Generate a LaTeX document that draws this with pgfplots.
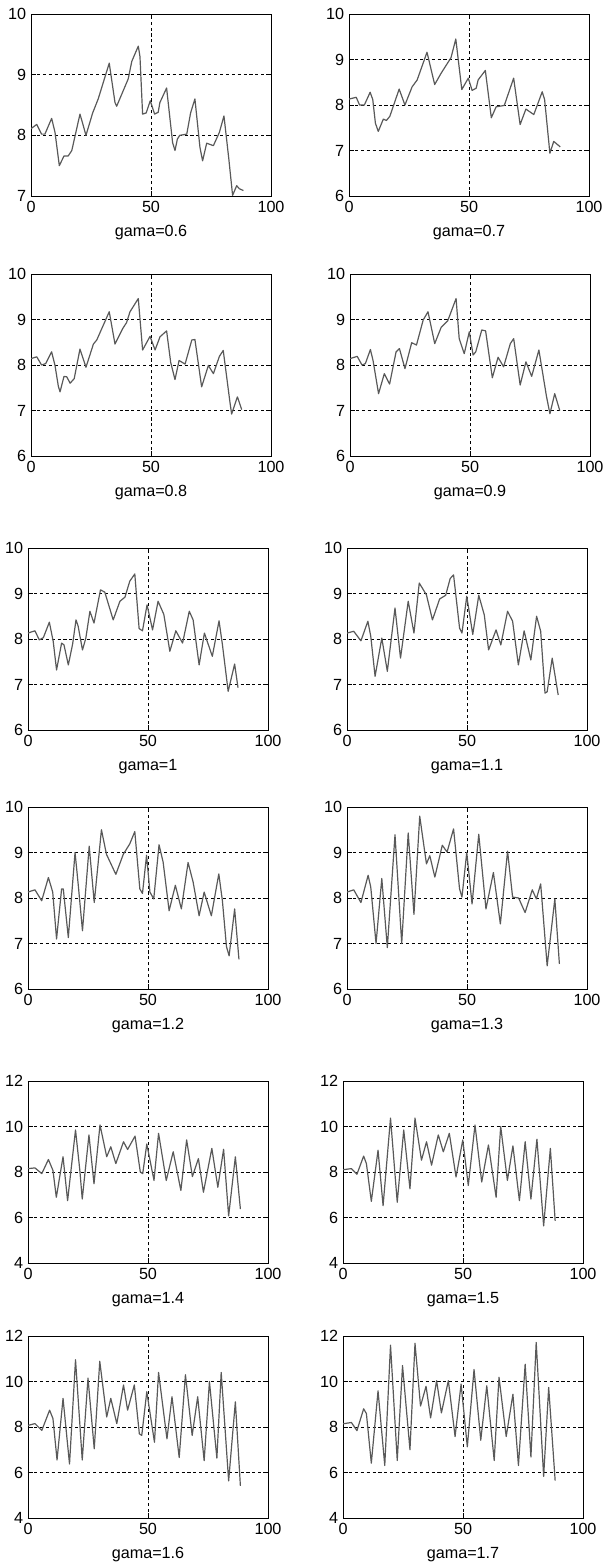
\documentclass[border=0pt]{standalone}
\usepackage{fontspec}
\setmainfont{Liberation Sans}
\usepackage{pgfplots}
\pgfplotsset{compat=1.18}

\pgfplotsset{
  panel/.style={
    scale only axis, width=60mm, height=45.5mm,
    anchor=north west,
    xmin=0, xmax=100, xtick={0,50,100},
    grid=major,
    major grid style={black, line width=0.5pt, dash pattern=on 2.2pt off 2pt},
    axis line style={black, line width=0.6pt},
    tick align=inside, tick pos=both, major tick length=1.2mm,
    tick style={black, line width=0.5pt},
    /pgf/number format/assume math mode=true,
    ticklabel style={font=\fontsize{11.5}{13}\selectfont},
    label style={font=\fontsize{11.5}{13}\selectfont},
    xlabel style={yshift=-2.5pt},
  },
  r1/.style={ymin=6, ymax=10, ytick={6,7,8,9,10}},
  r3/.style={ymin=4, ymax=12, ytick={4,6,8,10,12}},
}
\tikzset{trace/.style={draw=black!65, line width=0.85pt, line join=round, mark=none}}

\begin{document}
\begin{tikzpicture}
\path[use as bounding box] (0,0) rectangle (151.25mm,-390.5mm);

% gama = 0.6
\begin{axis}[panel, at={(7.75mm,-3.5mm)}, ymin=7, ymax=10, ytick={7,8,9,10}, xlabel={gama=0.6}]
\addplot[trace] coordinates {(0,8.11) (2.4,8.18) (4.4,8.02) (5.8,8.02) (8.6,8.28) (10,8.05) (11.8,7.5) (13.75,7.66) (15.5,7.66) (17,7.75) (20.4,8.35) (21.5,8.2) (22.9,8.0) (25.7,8.37) (28,8.6) (32.6,9.19) (35,8.54) (35.7,8.48) (40.5,8.93) (42,9.22) (44.7,9.47) (45.4,9.3) (46.5,8.35) (48,8.37) (49.7,8.57) (51.5,8.35) (53,8.38) (53.7,8.54) (56.5,8.78) (59,7.88) (60,7.75) (61,7.94) (62,8.0) (64.9,8.02) (66.5,8.37) (68.3,8.6) (70.4,7.8) (71.5,7.58) (73.2,7.87) (76,7.83) (78.5,8.05) (80.4,8.32) (82.4,7.62) (84,7.01) (85.7,7.17) (86.8,7.12) (88.5,7.09)};
\end{axis}

% gama = 0.7
\begin{axis}[panel, r1, at={(87.25mm,-3.5mm)}, xlabel={gama=0.7}]
\addplot[trace] coordinates {(0,8.13) (3,8.17) (4.4,8.0) (6.4,8.0) (8.8,8.28) (9.9,8.12) (11,7.6) (12.2,7.42) (14.3,7.69) (15.6,7.66) (17,7.75) (20.9,8.35) (23.3,8.0) (26.3,8.4) (28.4,8.55) (32.5,9.16) (35.7,8.45) (38.4,8.7) (42.5,9.04) (44.5,9.45) (47,8.34) (49.7,8.59) (51.3,8.32) (53,8.37) (53.8,8.55) (56.8,8.76) (59.3,7.72) (61.3,7.96) (64.7,7.99) (68.6,8.59) (71.3,7.57) (73.7,7.91) (77,7.79) (80.5,8.29) (81.5,8.12) (83.7,6.94) (85.3,7.2) (88,7.08)};
\end{axis}

% gama = 0.8
\begin{axis}[panel, r1, at={(7.75mm,-68.5mm)}, xlabel={gama=0.8}]
\addplot[trace] coordinates {(0,8.14) (2.4,8.18) (4.4,8.0) (6.1,8.03) (8.6,8.29) (10,7.99) (11.4,7.53) (12.1,7.41) (13.75,7.75) (14.9,7.74) (16.3,7.6) (18,7.7) (20.4,8.35) (22.9,7.95) (26,8.46) (27.4,8.55) (32.6,9.17) (35,8.46) (38.2,8.8) (39.8,8.93) (41.25,9.17) (44.7,9.46) (46.5,8.33) (49.6,8.63) (51.7,8.33) (53.75,8.62) (56.5,8.75) (58.2,8.06) (60,7.68) (61.7,8.1) (64.2,8.02) (67,8.55) (68.3,8.56) (71.1,7.52) (73.9,7.99) (76,7.81) (78.5,8.19) (80.1,8.32) (82.9,7.18) (83.6,6.92) (86,7.3) (87.8,7.02)};
\end{axis}

% gama = 0.9
\begin{axis}[panel, r1, at={(87.5mm,-68.5mm)}, xlabel={gama=0.9}]
\addplot[trace] coordinates {(0,8.14) (3,8.19) (5,8.0) (6.4,8.03) (8.5,8.34) (9.6,8.1) (11.9,7.37) (14.3,7.81) (16.5,7.58) (19.2,8.29) (20.6,8.36) (22.9,7.92) (25.7,8.49) (27.7,8.44) (30.5,8.99) (32.5,9.17) (35.3,8.47) (38,8.83) (40.7,8.97) (44.2,9.46) (45.5,8.58) (47.6,8.25) (49.7,8.73) (51.3,8.22) (52.4,8.29) (54.9,8.77) (56.5,8.75) (59.3,7.72) (61.7,8.17) (64,7.96) (66.8,8.47) (68.2,8.58) (70.9,7.56) (73.3,8.07) (75.7,7.75) (78.7,8.33) (81.9,7.3) (83.3,6.93) (85.3,7.37) (87.4,7.0)};
\end{axis}

% gama = 1
\begin{axis}[panel, r1, at={(7mm,-137mm)}, xlabel={gama=1}]
\addplot[trace] coordinates {(0,8.13) (2.9,8.18) (4.7,7.98) (6.4,8.03) (8.9,8.37) (10.5,7.95) (11.9,7.32) (14,7.91) (15,7.87) (16.8,7.43) (18.6,7.89) (20,8.42) (20.9,8.28) (22.7,7.76) (24.1,8.02) (25.8,8.61) (27.5,8.35) (30.2,9.08) (32,9.03) (35.5,8.42) (38.3,8.83) (40.4,8.92) (42.4,9.27) (44.5,9.43) (46.3,8.23) (47.7,8.18) (49.6,8.75) (51.9,8.2) (54.2,8.83) (56.6,8.54) (59.1,7.73) (61.6,8.18) (64.4,7.91) (67.2,8.61) (68.8,8.42) (71.3,7.43) (73.5,8.13) (76.8,7.62) (79.6,8.4) (81,7.88) (83.4,6.85) (86.1,7.45) (87.5,6.93)};
\end{axis}

% gama = 1.1
\begin{axis}[panel, r1, at={(86.75mm,-137mm)}, xlabel={gama=1.1}]
\addplot[trace] coordinates {(0,8.13) (2.8,8.17) (5.8,7.96) (8.7,8.39) (9.9,8.06) (11.7,7.18) (14.5,8.02) (16.8,7.29) (20,8.68) (22.3,7.58) (25.5,8.83) (27.9,8.13) (30.1,9.23) (33.1,8.97) (35.6,8.42) (38.6,8.88) (41.1,8.96) (43,9.33) (44.4,9.41) (46.9,8.24) (47.9,8.13) (49.9,8.94) (52.4,8.1) (54.9,8.96) (57.2,8.53) (59,7.76) (62.1,8.2) (64.1,7.87) (66.9,8.61) (69,8.39) (71.4,7.43) (73.8,8.18) (76.6,7.54) (79,8.5) (80.7,8.17) (82.5,6.81) (83.4,6.84) (85.5,7.58) (88,6.77)};
\end{axis}

% gama = 1.2
\begin{axis}[panel, r1, at={(7mm,-201.75mm)}, xlabel={gama=1.2}]
\addplot[trace] coordinates {(0,8.13) (2.9,8.18) (5.7,7.94) (8.5,8.45) (10.3,8.13) (11.9,7.1) (14,8.2) (14.7,8.2) (16.8,7.13) (19.6,9.0) (20.9,8.31) (22.7,7.28) (25.5,9.14) (27.6,7.9) (30.6,9.5) (32.7,8.96) (36.6,8.52) (39.7,8.96) (42.4,9.19) (44.5,9.46) (46.6,8.2) (47.7,8.1) (49.4,8.94) (50.8,8.13) (52.4,7.98) (54.6,9.17) (56.3,8.79) (58.8,7.72) (61.4,8.28) (63.9,7.76) (66.7,8.78) (68.8,8.35) (71.3,7.61) (73.4,8.13) (76.4,7.61) (79.5,8.53) (81,7.94) (82.7,6.93) (83.8,6.73) (86.1,7.76) (87.9,6.65)};
\end{axis}

% gama = 1.3
\begin{axis}[panel, r1, at={(86.75mm,-201.75mm)}, xlabel={gama=1.3}]
\addplot[trace] coordinates {(0,8.13) (2.8,8.18) (5.8,7.9) (8.8,8.5) (9.9,8.24) (12.1,7.0) (14.5,8.43) (16.8,6.91) (20,9.39) (22.8,7.0) (25.5,9.43) (27.9,7.64) (30.3,9.8) (33.1,8.75) (34.5,8.93) (36.6,8.46) (39.7,9.16) (41.7,9.01) (44.4,9.52) (46.9,8.2) (47.9,8.02) (49.9,9.0) (52.1,7.87) (54.9,9.4) (57.9,7.76) (61,8.56) (63.9,7.43) (66.9,9.03) (69,8.02) (71.5,8.0) (74.2,7.68) (77.2,8.18) (78.9,7.98) (80.7,8.31) (83.4,6.51) (86.6,7.98) (88.5,6.55)};
\end{axis}

% gama = 1.4
\begin{axis}[panel, r3, at={(7mm,-270.25mm)}, xlabel={gama=1.4}]
\addplot[trace] coordinates {(0,8.15) (2.9,8.18) (5.75,7.93) (8.5,8.55) (10.4,8.07) (11.8,6.89) (14.6,8.67) (16.5,6.74) (19.8,9.85) (21.6,8.07) (22.6,6.81) (25.4,9.63) (27.5,7.48) (30,10.07) (32.8,8.67) (34.5,9.11) (36.6,8.37) (39.8,9.33) (41.5,8.99) (44.6,9.58) (46.8,8.0) (47.8,7.93) (49.5,9.23) (52.5,7.63) (54.4,9.7) (57.6,7.63) (60.5,8.89) (63.7,7.19) (66.1,9.41) (68.5,7.8) (71,8.59) (73.1,7.11) (76.6,9.04) (79.1,7.33) (81.5,9.0) (83.6,6.07) (86.4,8.67) (88.5,6.37)};
\end{axis}

% gama = 1.5
\begin{axis}[panel, r3, at={(85.75mm,-270.25mm)}, xlabel={gama=1.5}]
\addplot[trace] coordinates {(0,8.1) (3.5,8.15) (5.8,7.9) (8.6,8.7) (9.75,8.37) (11.8,6.71) (14.6,8.96) (16.7,6.52) (19.8,10.37) (22.6,6.67) (25.3,9.85) (27.9,7.26) (30,10.37) (32.7,8.52) (34.8,9.33) (36.9,8.3) (39.7,9.63) (41.8,8.89) (44.3,9.7) (47.1,7.78) (49.9,9.41) (52.2,7.41) (55,10.07) (57.8,7.56) (60.6,9.19) (63.8,6.89) (65.7,10.0) (68.5,7.63) (70.8,9.15) (73.5,6.74) (75.9,9.33) (78.3,6.81) (80.8,9.44) (83.6,5.63) (86.4,9.04) (88.4,5.85)};
\end{axis}

% gama = 1.6
\begin{axis}[panel, r3, at={(7mm,-334mm)}, xlabel={gama=1.6}]
\addplot[trace] coordinates {(0,8.07) (2.9,8.15) (5.75,7.85) (9,8.74) (10.4,8.37) (12.1,6.55) (14.6,9.26) (17.3,6.37) (19.8,10.96) (22.6,6.55) (25,10.15) (27.6,7.04) (29.9,10.89) (32.8,8.44) (34.5,9.26) (37,8.15) (39.8,9.85) (41.5,8.74) (44.3,9.85) (46.4,7.7) (47.4,7.63) (49.5,9.55) (52.7,7.33) (54.4,10.4) (57.9,7.48) (60,9.33) (63,6.66) (65.6,10.3) (68.4,7.63) (70.7,9.33) (73.4,6.52) (75.6,10.0) (78.7,6.63) (80.5,10.4) (83.6,5.63) (86.4,9.11) (88.5,5.41)};
\end{axis}

% gama = 1.7
\begin{axis}[panel, r3, at={(85.75mm,-334mm)}, xlabel={gama=1.7}]
\addplot[trace] coordinates {(0,8.14) (3.5,8.2) (5.8,7.84) (8.6,8.8) (9.75,8.59) (11.8,6.41) (14.6,9.59) (17.4,6.31) (19.8,11.6) (22.6,6.53) (24.8,10.7) (27.9,7.0) (30,11.68) (32.3,8.92) (34.6,9.79) (36.5,8.4) (39,10.04) (41,8.62) (43.9,10.04) (46.7,7.58) (49.2,9.89) (51.8,7.13) (54.6,10.53) (57.4,7.42) (59.9,9.81) (63,6.53) (65,10.19) (68,7.58) (70.8,9.44) (73.1,6.31) (75.9,10.76) (78.3,6.68) (80.5,11.72) (83.6,5.83) (85.7,9.74) (88.4,5.64)};
\end{axis}

\end{tikzpicture}
\end{document}
